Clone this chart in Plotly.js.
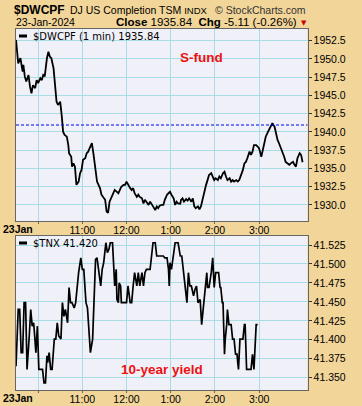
<!DOCTYPE html>
<html><head><meta charset="utf-8">
<script src="https://cdn.plot.ly/plotly-3.0.1.min.js"></script>
<style>html,body{margin:0;padding:0;background:#F2D598;}#c{width:362px;height:406px;}</style>
</head><body><div id="c"></div>
<script>
const dwcpfTimes = ["09:30","09:33","09:36","09:39","09:40","09:42","09:44","09:47","09:49","09:51","09:53","09:56","09:58","10:00","10:03","10:05","10:07","10:09","10:12","10:14","10:16","10:18","10:21","10:23","10:25","10:27","10:30","10:32","10:34","10:36","10:39","10:41","10:42","10:45","10:46","10:48","10:50","10:52","10:55","10:57","10:59","11:01","11:04","11:06","11:08","11:10","11:13","11:15","11:17","11:20","11:22","11:24","11:26","11:28","11:31","11:33","11:35","11:37","11:39","11:42","11:44","11:47","11:49","11:51","11:53","11:56","11:58","12:00","12:02","12:05","12:07","12:09","12:11","12:14","12:16","12:18","12:21","12:23","12:25","12:27","12:30","12:32","12:34","12:36","12:39","12:41","12:43","12:45","12:48","12:50","12:52","12:55","12:57","12:59","13:01","13:04","13:06","13:08","13:10","13:13","13:14","13:16","13:18","13:21","13:23","13:25","13:28","13:30","13:32","13:34","13:37","13:39","13:41","13:43","13:46","13:48","13:50","13:52","13:55","13:57","13:59","14:01","14:04","14:06","14:08","14:11","14:13","14:15","14:17","14:20","14:22","14:24","14:26","14:29","14:31","14:33","14:35","14:38","14:40","14:42","14:44","14:47","14:49","14:51","14:53","14:56","14:58","15:00","15:03","15:05","15:07","15:09","15:12","15:16","15:18","15:21","15:23","15:25","15:27","15:30","15:32","15:34","15:36","15:39","15:41","15:43","15:46","15:48","15:50","15:52","15:55","15:57","15:59"];
const dwcpfValues = [1952.6,1949.4,1950.1,1948.25,1949.2,1947.57,1946.9,1947.8,1946.2,1945.3,1946.4,1946.0,1947.1,1946.7,1947.35,1947.1,1947.8,1947.6,1950.1,1951.0,1950.3,1950.1,1948.7,1946.7,1944.15,1943.7,1944.15,1942.3,1940.0,1939.6,1939.35,1938.2,1937.1,1936.6,1935.25,1935.7,1935.25,1932.75,1933.2,1934.35,1934.8,1936.2,1936.4,1937.1,1937.3,1937.8,1938.45,1937.1,1935.25,1933.2,1932.75,1932.3,1931.4,1931.1,1930.7,1929.1,1928.9,1930.45,1930.9,1931.6,1932.05,1931.8,1931.6,1932.05,1932.5,1932.75,1932.75,1933.2,1932.75,1932.3,1932.05,1932.3,1931.6,1931.1,1931.4,1931.1,1930.9,1930.2,1930.7,1930.45,1930.0,1930.45,1930.0,1929.8,1929.3,1929.8,1929.55,1929.9,1930.0,1930.0,1930.7,1931.4,1931.6,1931.8,1931.4,1930.9,1930.0,1930.45,1930.2,1930.15,1930.7,1930.9,1930.45,1930.8,1930.6,1930.9,1930.45,1930.9,1929.8,1929.55,1929.8,1929.4,1929.8,1930.7,1932.3,1932.75,1933.4,1934.1,1934.35,1933.9,1933.4,1933.65,1933.4,1933.9,1933.65,1934.35,1934.55,1933.9,1933.4,1933.65,1933.2,1933.4,1933.2,1933.4,1933.2,1933.4,1933.9,1934.8,1935.7,1935.9,1936.4,1937.3,1936.85,1937.3,1938.2,1938.2,1938.0,1937.75,1936.6,1937.55,1938.45,1939.35,1940.0,1940.95,1941.2,1940.7,1939.6,1938.9,1938.45,1937.75,1937.1,1936.6,1935.9,1935.7,1935.5,1935.7,1935.9,1935.5,1935.25,1936.4,1937.1,1936.85,1935.84];

const tnxTimes = ["09:30","09:33","09:35","09:37","09:39","09:41","09:43","09:45","09:48","09:50","09:52","09:54","09:57","09:59","10:01","10:06","10:08","10:10","10:12","10:13","10:15","10:17","10:19","10:22","10:24","10:26","10:28","10:31","10:33","10:35","10:37","10:40","10:42","10:44","10:46","10:49","10:51","10:53","10:55","10:58","11:00","11:02","11:05","11:07","11:09","11:11","11:14","11:16","11:18","11:20","11:23","11:25","11:27","11:29","11:32","11:34","11:36","11:38","11:41","11:43","11:44","11:46","11:47","11:49","11:50","11:52","11:53","12:00","12:02","12:05","12:07","12:09","12:11","12:14","12:16","12:18","12:21","12:23","12:25","12:27","12:32","12:34","12:36","12:39","12:41","12:50","12:52","12:55","12:57","12:58","12:59","13:01","13:03","13:04","13:06","13:10","13:13","13:15","13:17","13:19","13:22","13:24","13:26","13:28","13:31","13:33","13:35","13:37","13:40","13:42","13:44","13:47","13:49","13:50","13:52","13:55","13:57","13:58","13:59","14:01","14:05","14:07","14:08","14:10","14:11","14:13","14:14","14:16","14:17","14:19","14:22","14:24","14:26","14:28","14:30","14:31","14:32","14:34","14:38","14:40","14:41","14:43","14:49","14:51","14:53","14:56","14:58"];
const tnxValues = [41.365,41.440,41.440,41.383,41.383,41.449,41.449,41.361,41.405,41.440,41.418,41.4225,41.383,41.418,41.361,41.361,41.343,41.343,41.379,41.370,41.383,41.361,41.361,41.401,41.401,41.4225,41.405,41.401,41.449,41.431,41.440,41.4225,41.469,41.449,41.449,41.442,41.449,41.471,41.4885,41.508,41.493,41.493,41.449,41.442,41.414,41.383,41.401,41.469,41.506,41.508,41.4885,41.471,41.493,41.5016,41.528,41.515,41.519,41.528,41.528,41.4885,41.471,41.493,41.453,41.449,41.475,41.471,41.449,41.449,41.471,41.449,41.449,41.471,41.4885,41.471,41.4885,41.471,41.4885,41.471,41.4885,41.493,41.493,41.5105,41.528,41.528,41.5105,41.5105,41.508,41.508,41.493,41.471,41.5016,41.493,41.5105,41.5105,41.528,41.528,41.5105,41.5105,41.493,41.471,41.449,41.4885,41.471,41.471,41.458,41.4666,41.471,41.449,41.453,41.420,41.440,41.462,41.4885,41.469,41.469,41.4885,41.508,41.4885,41.469,41.4885,41.4885,41.469,41.469,41.449,41.449,41.381,41.401,41.420,41.440,41.420,41.420,41.401,41.401,41.381,41.381,41.370,41.361,41.401,41.401,41.420,41.420,41.361,41.361,41.381,41.361,41.420,41.420];

const prevClose = 1940.95;
const hourTicks = ["10:00","11:00","12:00","13:00","14:00","15:00"];
const hourLabels = ["","11:00","12:00","1:00","2:00","3:00"];
const dwTicks = [1930.0,1932.5,1935.0,1937.5,1940.0,1942.5,1945.0,1947.5,1950.0,1952.5];
const tnxTicks = [41.350,41.375,41.400,41.425,41.450,41.475,41.500,41.525];

const D = t => "2024-01-23 " + t;
const W = 362, H = 406;
const px = x => x / W, py = y => 1 - y / H;

const tickFont = {family: "Liberation Sans, Arial, sans-serif", size: 10.5, color: "#000"};
const gridC = "#A9DDE6", lineC = "#666";

const xBase = {
  type: "date", range: [D("09:30"), D("16:05:40")],
  tickvals: hourTicks.map(D), ticktext: hourLabels,
  showgrid: true, gridcolor: gridC, gridwidth: 1,
  showline: true, linecolor: lineC, linewidth: 1, mirror: true,
  ticks: "outside", ticklen: 2, tickcolor: lineC, ticklabelstandoff: -3,
  tickfont: tickFont, zeroline: false, fixedrange: true,
  domain: [px(16), px(307.5)]
};
const yBase = {
  side: "right", showgrid: true, gridcolor: gridC, gridwidth: 1,
  showline: true, linecolor: lineC, linewidth: 1, mirror: true,
  ticks: "outside", ticklen: 3, tickcolor: "#333",
  tickfont: tickFont, zeroline: false
};

const data = [
  {x: dwcpfTimes.map(D), y: dwcpfValues, xaxis: "x", yaxis: "y", mode: "lines",
   line: {color: "#000", width: 1.8}, hoverinfo: "skip"},
  {x: tnxTimes.map(D), y: tnxValues, xaxis: "x2", yaxis: "y2", mode: "lines",
   line: {color: "#000", width: 1.7}, hoverinfo: "skip"}
];

const A = (x, y, text, o) => Object.assign({xref: "paper", yref: "paper", x: px(x), y: py(y),
  text, showarrow: false, xanchor: "left", yanchor: "middle",
  font: {family: "Liberation Sans, Arial, sans-serif", size: 11, color: "#000"}}, o || {});

const layout = {
  width: W, height: H, margin: {l: 0, r: 0, t: 0, b: 0},
  paper_bgcolor: "#F2D598", plot_bgcolor: "#F0F0F8", showlegend: false,
  xaxis: Object.assign({}, xBase, {anchor: "y"}),
  yaxis: Object.assign({}, yBase, {anchor: "x", domain: [py(221), py(29)], range: [1927.8, 1954.1],
    tickvals: dwTicks, tickformat: ".1f"}),
  xaxis2: Object.assign({}, xBase, {anchor: "y2"}),
  yaxis2: Object.assign({}, yBase, {anchor: "x2", domain: [py(390), py(236)], range: [41.3338, 41.5369],
    tickvals: tnxTicks, tickformat: ".3f"}),
  shapes: [
    {type: "line", xref: "x domain", yref: "y", x0: 0, x1: 1, y0: prevClose, y1: prevClose,
     line: {color: "#0000EE", width: 1.2, dash: "3px,2px"}},
    {type: "line", xref: "paper", yref: "paper", x0: px(19), x1: px(27), y0: py(36), y1: py(36),
     line: {color: "#000", width: 3}},
    {type: "line", xref: "paper", yref: "paper", x0: px(19), x1: px(27), y0: py(243), y1: py(243),
     line: {color: "#000", width: 3}}
  ],
  annotations: [
    A(12, 9.5, "<b>$DWCPF</b>", {font: {family: "Liberation Sans, Arial", size: 12, color: "#000"}}),
    A(68, 9.5, "DJ US Completion TSM <span style='font-size:9.5px'>INDX</span>", {font: {family: "Liberation Sans, Arial", size: 10.5, color: "#000"}}),
    A(308, 9.5, "© StockCharts.com", {xanchor: "right", font: {family: "Liberation Sans, Arial", size: 10.5, color: "#333"}}),
    A(14, 22.5, "23-Jan-2024", {font: {family: "Liberation Sans, Arial", size: 10.5, color: "#000"}}),
    A(299, 22.5, "<b>Close</b> 1935.84  <b>Chg</b> -5.11 (-0.26%)", {xanchor: "right", font: {family: "Liberation Sans, Arial", size: 11.5, color: "#000"}}),
    A(304, 23, "▼", {xanchor: "center", font: {family: "DejaVu Sans", size: 7, color: "#CC0000"}}),
    A(31, 36, "$DWCPF (1 min) 1935.84", {font: {family: "DejaVu Sans", size: 10, color: "#000"}}),
    A(31, 243, "$TNX 41.420", {font: {family: "DejaVu Sans", size: 10, color: "#000"}}),
    A(201.5, 57, "<b>S-fund</b>", {xanchor: "center", font: {family: "Liberation Sans, Arial", size: 13.5, color: "#EE1111"}}),
    A(161.5, 369.5, "<b>10-year yield</b>", {xanchor: "center", font: {family: "Liberation Sans, Arial", size: 13.5, color: "#EE1111"}}),
    A(1, 228.5, "<b>23Jan</b>", {font: {family: "Liberation Sans, Arial", size: 10.5, color: "#000"}}),
    A(1, 398, "<b>23Jan</b>", {font: {family: "Liberation Sans, Arial", size: 10.5, color: "#000"}})
  ]
};

Plotly.newPlot("c", data, layout, {staticPlot: true, displayModeBar: false});
</script></body></html>
